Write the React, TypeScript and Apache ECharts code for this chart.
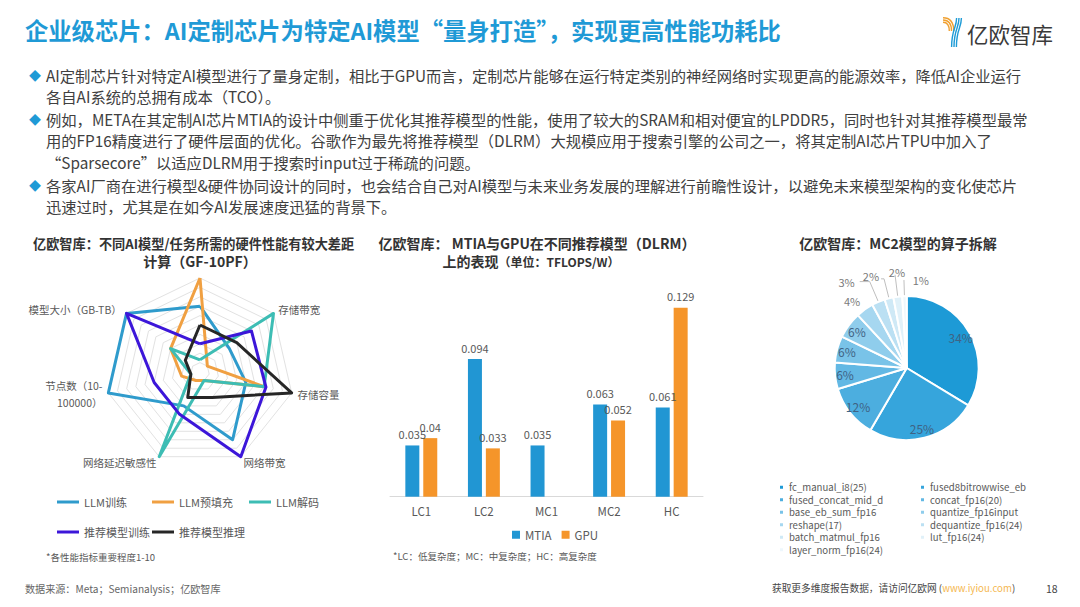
import React, { useEffect, useRef } from 'react';
import * as echarts from 'echarts';

const FONT = "'Noto Sans CJK SC', 'Noto Sans', sans-serif";

// ---------- texts ----------
const pageTitle = '企业级芯片：AI定制芯片为特定AI模型“量身打造”，实现更高性能功耗比';
const bullet1 = [
  'AI定制芯片针对特定AI模型进行了量身定制，相比于GPU而言，定制芯片能够在运行特定类别的神经网络时实现更高的能源效率，降低AI企业运行',
  '各自AI系统的总拥有成本（TCO）。',
];
const bullet2 = [
  '例如，META在其定制AI芯片MTIA的设计中侧重于优化其推荐模型的性能，使用了较大的SRAM和相对便宜的LPDDR5，同时也针对其推荐模型最常',
  '用的FP16精度进行了硬件层面的优化。谷歌作为最先将推荐模型（DLRM）大规模应用于搜索引擎的公司之一，将其定制AI芯片TPU中加入了',
  '“Sparsecore”以适应DLRM用于搜索时input过于稀疏的问题。',
];
const bullet3 = [
  '各家AI厂商在进行模型&硬件协同设计的同时，也会结合自己对AI模型与未来业务发展的理解进行前瞻性设计，以避免未来模型架构的变化使芯片',
  '迅速过时，尤其是在如今AI发展速度迅猛的背景下。',
];

// ---------- radar data ----------
const radarIndicators = ['计算（GF-10PF）', '模型大小（GB-TB）', '节点数（10-\n100000）', '网络延迟敏感性', '网络带宽', '存储容量', '存储带宽'];
const radarSeriesNames = ['LLM训练', 'LLM预填充', 'LLM解码', '推荐模型训练', '推荐模型推理'];
const llmTrain = [7, 10, 10, 4, 8, 5, 4];
const llmPrefill = [10, 4, 2, 1, 1, 7, 1];
const llmDecode = [1.3, 4, 1, 10, 1, 7, 10];
const recTrain = [3, 10, 5, 5, 10, 7.2, 7];
const recInfer = [5, 2, 1, 3, 3, 10, 5];
const radarColors = ['#2f9bcc', '#f0a042', '#3dbdb4', '#3c16d9', '#262626'];

// ---------- bar data ----------
const barCategories = ['LC1', 'LC2', 'MC1', 'MC2', 'HC'];
const mtiaValues = [0.035, 0.094, 0.035, 0.063, 0.061];
const gpuValues: (number | null)[] = [0.04, 0.033, null, 0.052, 0.129];

// ---------- pie data ----------
const pieNames = [
  'fc_manual_i8(25)', 'fused8bitrowwise_eb', 'fused_concat_mid_d', 'concat_fp16(20)',
  'base_eb_sum_fp16', 'quantize_fp16input', 'reshape(17)', 'dequantize_fp16(24)',
  'batch_matmul_fp16', 'lut_fp16(24)', 'layer_norm_fp16(24)',
];
const pieValues = [34, 25, 12, 6, 6, 6, 4, 3, 2, 2, 1];
const pieColors = ['#1d9ad6', '#36a5dc', '#4caedf', '#62b8e4', '#79c3e8', '#8fcdec', '#a6d7f0', '#bbe0f3', '#cfe9f6', '#e0f1f9', '#eef7fc'];

// label-line lengths for the small outside labels [length, length2]
const smallLabelLines: Record<number, [number, number]> = { 6: [6, 0], 7: [22, 10], 8: [20, 3], 9: [22, 0], 10: [16, 0] };
// label nudges for small-slice labels
const smallLabelNudge: Record<number, [number, number]> = { 6: [4, -4], 8: [3, -3], 9: [15, -3], 10: [30, 0] };

function buildOption(): any {
  const graphic: any[] = [];
  const txt = (text: string, x: number, y: number, style: any = {}) =>
    graphic.push({
      type: 'text',
      x,
      y,
      silent: true,
      style: { text, fontFamily: FONT, fontSize: 12, fill: '#404040', verticalAlign: 'middle', align: 'left', ...style },
    });

  // page title
  txt(pageTitle, 25, 30, { fontSize: 23.3, fontWeight: 'bold', fill: '#1f9ad6' });

  // logo
  [-2.2, 0, 2.2].forEach((o) => {
    graphic.push({
      type: 'bezierCurve',
      silent: true,
      shape: { x1: 943, y1: 20 + o, cpx1: 951.5 - o, cpy1: 20 + o, x2: 951.5 - o, y2: 31 },
      style: { stroke: '#f0a030', lineWidth: 1.4, fill: 'none' },
    });
  });
  [-2.4, 0, 2.4].forEach((o) => {
    graphic.push({
      type: 'bezierCurve',
      silent: true,
      shape: { x1: 959 + o, y1: 18, cpx1: 959 + o, cpy1: 28, cpx2: 954 + o, cpy2: 29, x2: 954 + o, y2: 47 },
      style: { stroke: '#1e9bd6', lineWidth: 1.4, fill: 'none' },
    });
  });
  txt('亿欧智库', 967, 33, { fontSize: 21.5, fill: '#3a3a3a' });

  // bullets
  const bulletBlocks: [string[], number][] = [
    [bullet1, 75],
    [bullet2, 119],
    [bullet3, 185],
  ];
  bulletBlocks.forEach(([lines, y0]) => {
    txt('◆', 29, y0, { fontSize: 12, fill: '#1f9ad6' });
    lines.forEach((l, i) => txt(l, 46, y0 + i * 21.3, { fontSize: 15.3, fill: '#404040' }));
  });

  // chart titles
  txt('亿欧智库：不同AI模型/任务所需的硬件性能有较大差距', 33, 243, { fontSize: 13.2, fontWeight: 'bold', fill: '#333' });
  txt('亿欧智库： MTIA与GPU在不同推荐模型（DLRM）', 537, 243, { fontSize: 14, fontWeight: 'bold', fill: '#333', align: 'center' });
  graphic.push({
    type: 'text',
    x: 531,
    y: 261,
    silent: true,
    style: {
      text: '{a|上的表现}{b|（单位：TFLOPS/W）}',
      align: 'center',
      verticalAlign: 'middle',
      fontFamily: FONT,
      rich: {
        a: { fontSize: 14, fontWeight: 'bold', fill: '#333', fontFamily: FONT },
        b: { fontSize: 12, fontWeight: 'bold', fill: '#333', fontFamily: FONT },
      },
    },
  });
  txt('亿欧智库：MC2模型的算子拆解', 898, 243, { fontSize: 14, fontWeight: 'bold', fill: '#333', align: 'center' });

  // notes
  txt('*各性能指标重要程度1-10', 46, 557, { fontSize: 9.5, fill: '#595959' });
  txt('*LC：低复杂度；MC：中复杂度；HC：高复杂度', 393, 556, { fontSize: 9.5, fill: '#595959' });
  txt('数据来源：Meta；Semianalysis；亿欧智库', 25, 588, { fontSize: 10.1, fill: '#666' });
  graphic.push({
    type: 'text',
    x: 772,
    y: 588,
    silent: true,
    style: {
      text: '{a|获取更多维度报告数据，请访问亿欧网 (}{b|www.iyiou.com}{a|)}',
      verticalAlign: 'middle',
      fontFamily: FONT,
      rich: {
        a: { fontSize: 9.7, fill: '#444', fontFamily: FONT },
        b: { fontSize: 9.7, fill: '#f5b84f', fontFamily: FONT },
      },
    },
  });
  txt('18', 1046, 588, { fontSize: 10.5, fill: '#444' });

  const radarData = [llmTrain, llmPrefill, llmDecode, recTrain, recInfer].map((v, i) => ({
    name: radarSeriesNames[i],
    value: v,
    lineStyle: { color: radarColors[i], width: 3 },
    itemStyle: { color: radarColors[i] },
  }));

  const legendText = { fontSize: 11, color: '#595959', fontFamily: FONT, lineHeight: 16 };
  const radarLegendBase = {
    orient: 'vertical',
    top: 494,
    padding: 0,
    itemGap: 14,
    icon: 'rect',
    itemWidth: 22,
    itemHeight: 3,
    selectedMode: false,
    textStyle: legendText,
  };
  const pieLegendBase = {
    orient: 'vertical',
    top: 481,
    padding: 0,
    itemGap: 0,
    icon: 'rect',
    itemWidth: 5,
    itemHeight: 5,
    selectedMode: false,
    textStyle: { fontSize: 9.6, color: '#595959', fontFamily: FONT, lineHeight: 12.5 },
  };

  const pieData = pieNames.map((n, i) => {
    const ll = smallLabelLines[i];
    return {
      name: n,
      value: pieValues[i],
      itemStyle: { color: pieColors[i] },
      label: ll
        ? { show: true, position: 'outside', formatter: '{c}%', color: '#7a7a7a', fontSize: 11, fontFamily: FONT }
        : { show: false },
      labelLine: ll
        ? { show: i > 6, length: ll[0], length2: ll[1], lineStyle: { color: '#bfbfbf', width: 1 } }
        : { show: false },
    };
  });
  const pieLabelData = pieNames.map((n, i) => ({
    name: n,
    value: pieValues[i],
    label: i < 6 ? { show: true } : { show: false },
  }));

  return {
    animation: false,
    backgroundColor: '#fff',
    textStyle: { fontFamily: FONT },
    graphic,
    legend: [
      { ...radarLegendBase, left: 57, data: ['LLM训练', '推荐模型训练'] },
      { ...radarLegendBase, left: 152, data: ['LLM预填充', '推荐模型推理'] },
      { ...radarLegendBase, left: 249, data: ['LLM解码'] },
      {
        orient: 'horizontal',
        left: 512,
        top: 529,
        padding: 0,
        itemGap: 10,
        icon: 'rect',
        itemWidth: 8,
        itemHeight: 8,
        selectedMode: false,
        textStyle: { fontSize: 11.5, color: '#595959', fontFamily: FONT },
        data: ['MTIA', 'GPU'],
      },
      { ...pieLegendBase, left: 778, data: pieNames.filter((_, i) => i % 2 === 0) },
      { ...pieLegendBase, left: 919, data: pieNames.filter((_, i) => i % 2 === 1) },
    ],
    radar: {
      center: [200, 372],
      radius: 94,
      startAngle: 90,
      shape: 'polygon',
      splitNumber: 10,
      nameGap: 6,
      indicator: radarIndicators.map((n) => ({ name: n, min: 0, max: 10 })),
      axisName: {
        color: '#595959',
        fontSize: 10.5,
        lineHeight: 17,
        fontFamily: FONT,
        formatter: (name: string) => (name.indexOf('计算') === 0 ? `{t|${name}}` : name),
        rich: { t: { fontSize: 14, fontWeight: 'bold', color: '#333', fontFamily: FONT, padding: [0, 0, 6, 0] } },
      },
      splitLine: { lineStyle: { color: '#e2e2e2', width: 1 } },
      splitArea: { show: false },
      axisLine: { show: false },
    },
    grid: { left: 390, right: 377, top: 291.7, bottom: 110.3 },
    xAxis: {
      type: 'category',
      data: barCategories,
      axisLine: { lineStyle: { color: '#d9d9d9' } },
      axisTick: { show: false },
      axisLabel: { color: '#595959', fontSize: 11.5, margin: 9, fontFamily: FONT },
    },
    yAxis: { type: 'value', min: 0, max: 0.14, show: false, splitLine: { show: false } },
    series: [
      {
        type: 'radar',
        symbol: 'none',
        data: radarData,
      },
      {
        type: 'bar',
        name: 'MTIA',
        data: mtiaValues,
        barWidth: 14,
        barGap: '28%',
        itemStyle: { color: '#2196d3' },
        label: { show: true, position: 'top', distance: 6, color: '#595959', fontSize: 11, fontFamily: FONT },
      },
      {
        type: 'bar',
        name: 'GPU',
        data: gpuValues,
        barWidth: 14,
        barGap: '28%',
        itemStyle: { color: '#f5952a' },
        label: { show: true, position: 'top', distance: 6, color: '#595959', fontSize: 11, fontFamily: FONT },
      },
      {
        type: 'pie',
        center: [906.7, 368],
        radius: [0, 72],
        startAngle: 90,
        clockwise: true,
        avoidLabelOverlap: false,
        labelLayout: (p: any) => {
          const n = smallLabelNudge[p.dataIndex];
          return n ? { dx: n[0], dy: n[1], hideOverlap: false } : { hideOverlap: false };
        },
        itemStyle: { borderColor: '#fff', borderWidth: 2 },
        emphasis: { disabled: true },
        data: pieData,
      },
      {
        type: 'pie',
        center: [906.7, 368],
        radius: [46, 72],
        startAngle: 90,
        clockwise: true,
        silent: true,
        legendHoverLink: false,
        avoidLabelOverlap: false,
        labelLayout: { hideOverlap: false },
        itemStyle: { color: 'rgba(0,0,0,0)', borderWidth: 0 },
        labelLine: { show: false },
        label: { position: 'inside', formatter: '{c}%', color: '#3f6384', fontSize: 12, fontFamily: FONT },
        emphasis: { disabled: true },
        data: pieLabelData,
      },
    ],
  };
}

export default function App() {
  const ref = useRef<HTMLDivElement>(null);
  useEffect(() => {
    if (!ref.current) return;
    const chart = echarts.init(ref.current, null, { renderer: 'svg' });
    chart.setOption(buildOption());
    return () => chart.dispose();
  }, []);
  return (
    <div
      ref={ref}
      style={{ position: 'fixed', left: 0, top: 0, width: 1080, height: 607, background: '#fff' }}
    />
  );
}
